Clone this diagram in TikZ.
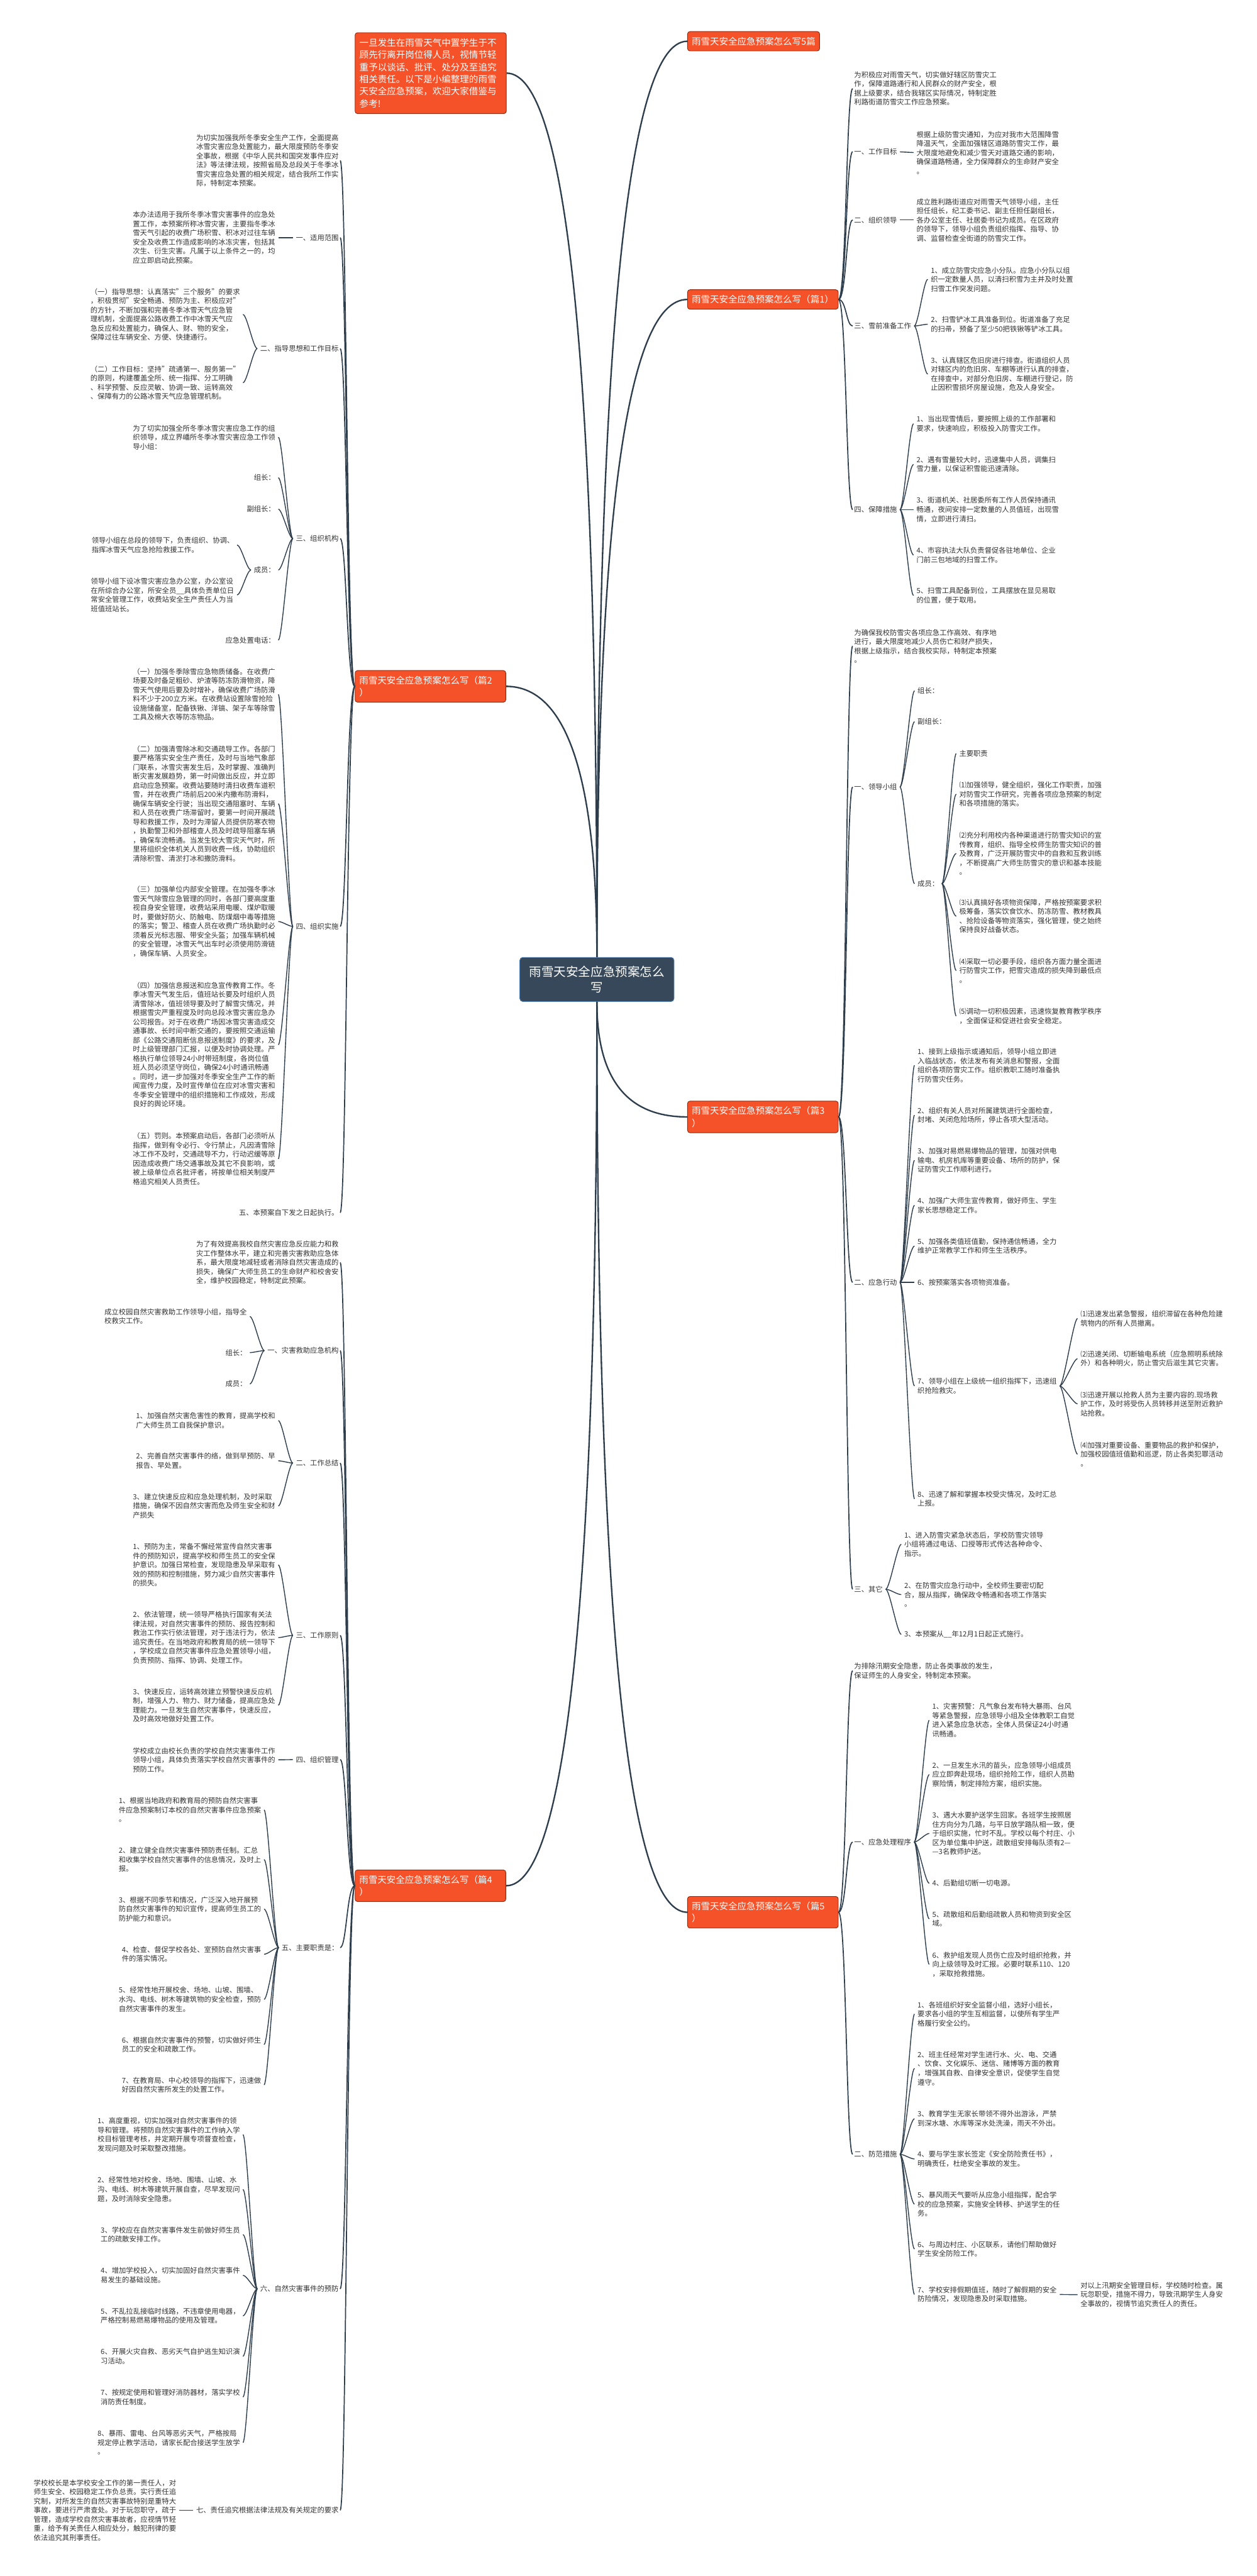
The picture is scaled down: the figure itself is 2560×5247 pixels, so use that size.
\documentclass[tikz,border=0pt]{standalone}
\usepackage{fontspec}
\setmainfont{Noto Sans CJK SC}
\usepackage{tikz}
\usepackage{xcolor}
\definecolor{linkcol}{HTML}{2E3D4C}
\definecolor{topicred}{HTML}{F5522A}
\definecolor{topicedge}{HTML}{8E2A12}
\definecolor{rootfill}{HTML}{36485A}
\definecolor{rootedge}{HTML}{4B7DB3}
\definecolor{txtcol}{HTML}{333333}
\newcommand{\txtfont}{\fontsize{14.5}{18.6}\selectfont}
\newcommand{\topicfont}{\fontsize{18.6}{24.7}\selectfont}
\newcommand{\rootfont}{\fontsize{25}{31.7}\selectfont}

\begin{document}
\begin{tikzpicture}[x=1pt,y=-1pt,
	txt/.style={inner sep=0pt,align=left,font=\txtfont,text=txtcol},
	rtxt/.style={txt,anchor=west},
	ltxt/.style={txt,anchor=east},
	topic/.style={rectangle,rounded corners=5pt,fill=topicred,draw=topicedge,line width=1.2pt,text=white,font=\topicfont,align=left,inner xsep=8.5pt,inner ysep=11pt},
	root/.style={rectangle,rounded corners=6pt,fill=rootfill,draw=rootedge,line width=1.2pt,text=white,font=\rootfont,align=center,minimum width=314pt,minimum height=90pt},
	link1/.style={draw=linkcol,line width=3pt},
	link2/.style={draw=linkcol,line width=2.2pt,shorten >=3pt},
	link3/.style={draw=linkcol,line width=1.8pt,shorten <=6pt,shorten >=6pt}]
		\fill[white] (0,0) rectangle (2560,5247);
		\useasboundingbox (0,0) rectangle (2560,5247);

		\node[root] (c) at (1216,1995) {雨雪天安全应急预案怎么\\写};

		\node[topic,text width=290pt,inner xsep=9pt,inner ysep=12pt,anchor=east] (ti) at (1032,149) {一旦发生在雨雪天气中置学生于不\\顾先行离开岗位得人员，视情节轻\\重予以谈话、批评、处分及至追究\\相关责任。以下是小编整理的雨雪\\天安全应急预案，欢迎大家借鉴与\\参考!};
		\node[topic,text width=290pt,anchor=east] (t2) at (1031,1398) {雨雪天安全应急预案怎么写（篇2\\）};
		\node[topic,text width=290pt,anchor=east] (t4) at (1031,3841) {雨雪天安全应急预案怎么写（篇4\\）};
		\node[topic,anchor=west] (t0) at (1400,84) {雨雪天安全应急预案怎么写5篇};
		\node[topic,text width=290pt,anchor=west] (t1) at (1400,610) {雨雪天安全应急预案怎么写（篇1）};
		\node[topic,text width=290pt,anchor=west] (t3) at (1400,2275) {雨雪天安全应急预案怎么写（篇3\\）};
		\node[topic,text width=290pt,anchor=west] (t5) at (1400,3895) {雨雪天安全应急预案怎么写（篇5\\）};

		\draw[link1] (c.north) .. controls +(0,-1244) and +(-123,0) .. (t0.west);
		\draw[link1] (c.north) .. controls +(0,-893) and +(-123,0) .. (t1.west);
		\draw[link1] (c.north) .. controls +(0,-1201) and +(123,0) .. (ti.east);
		\draw[link1] (c.north) .. controls +(0,-368) and +(123,0) .. (t2.east);
		\draw[link1] (c.south) .. controls +(0,157) and +(-123,0) .. (t3.west);
		\draw[link1] (c.south) .. controls +(0,1237) and +(-123,0) .. (t5.west);
		\draw[link1] (c.south) .. controls +(0,1201) and +(123,0) .. (t4.east);

		\node[rtxt] (a0) at (1740,180.5) {为积极应对雨雪天气，切实做好辖区防雪灾工\\作，保障道路通行和人民群众的财产安全，根\\据上级要求，结合我辖区实际情况，特制定胜\\利路街道防雪灾工作应急预案。};
		\node[rtxt] (a1) at (1740,309) {一、工作目标};
		\node[rtxt] (a1x) at (1867,311) {根据上级防雪灾通知，为应对我市大范围降雪\\降温天气，全面加强辖区道路防雪灾工作，最\\大限度地避免和减少雪天对道路交通的影响，\\确保道路畅通，全力保障群众的生命财产安全\\。};
		\node[rtxt] (a2) at (1740,448) {二、组织领导};
		\node[rtxt] (a2x) at (1867,448) {成立胜利路街道应对雨雪天气领导小组，主任\\担任组长，纪工委书记、副主任担任副组长，\\各办公室主任、社居委书记为成员。在区政府\\的领导下，领导小组负责组织指挥、指导、协\\调、监督检查全街道的防雪灾工作。};
		\node[rtxt] (a3) at (1740,664) {三、雪前准备工作};
		\node[rtxt] (a31) at (1896,569) {1、成立防雪灾应急小分队。应急小分队以组\\织一定数量人员，以清扫积雪为主并及时处置\\扫雪工作突发问题。};
		\node[rtxt] (a32) at (1896,660.5) {2、扫雪铲冰工具准备到位。街道准备了充足\\的扫帚，预备了至少50把铁锹等铲冰工具。};
		\node[rtxt] (a33) at (1896,762) {3、认真辖区危旧房进行排查。街道组织人员\\对辖区内的危旧房、车棚等进行认真的排查，\\在排查中，对部分危旧房、车棚进行登记，防\\止因积雪损坏房屋设施，危及人身安全。};
		\node[rtxt] (a4) at (1740,1038) {四、保障措施};
		\node[rtxt] (a41) at (1867,863) {1、当出现雪情后，要按照上级的工作部署和\\要求，快速响应，积极投入防雪灾工作。};
		\node[rtxt] (a42) at (1867,946) {2、遇有雪量较大时，迅速集中人员，调集扫\\雪力量，以保证积雪能迅速清除。};
		\node[rtxt] (a43) at (1867,1038) {3、街道机关、社居委所有工作人员保持通讯\\畅通，夜间安排一定数量的人员值班，出现雪\\情，立即进行清扫。};
		\node[rtxt] (a44) at (1867,1130.5) {4、市容执法大队负责督促各驻地单位、企业\\门前三包地域的扫雪工作。};
		\node[rtxt] (a45) at (1867,1213) {5、扫雪工具配备到位，工具摆放在显见易取\\的位置，便于取用。};

		\node[rtxt] (b0) at (1740,1316) {为确保我校防雪灾各项应急工作高效、有序地\\进行，最大限度地减少人员伤亡和财产损失，\\根据上级指示，结合我校实际，特制定本预案\\。};
		\node[rtxt] (b1) at (1740,1603) {一、领导小组};
		\node[rtxt] (b11) at (1869,1407) {组长：};
		\node[rtxt] (b12) at (1869,1470) {副组长：};
		\node[rtxt] (b13) at (1869,1800) {成员：};
		\node[rtxt] (b131) at (1954,1535) {主要职责};
		\node[rtxt] (b132) at (1954,1617.5) {⑴加强领导，健全组织，强化工作职责，加强\\对防雪灾工作研究，完善各项应急预案的制定\\和各项措施的落实。};
		\node[rtxt] (b133) at (1954,1738.5) {⑵充分利用校内各种渠道进行防雪灾知识的宣\\传教育，组织、指导全校师生防雪灾知识的普\\及教育，广泛开展防雪灾中的自救和互救训练\\，不断提高广大师生防雪灾的意识和基本技能\\。};
		\node[rtxt] (b134) at (1954,1866) {⑶认真搞好各项物资保障，严格按预案要求积\\极筹备，落实饮食饮水、防冻防雪、教材教具\\、抢险设备等物资落实，强化管理，使之始终\\保持良好战备状态。};
		\node[rtxt] (b135) at (1954,1977) {⑷采取一切必要手段，组织各方面力量全面进\\行防雪灾工作，把雪灾造成的损失降到最低点\\。};
		\node[rtxt] (b136) at (1954,2069.5) {⑸调动一切积极因素，迅速恢复教育教学秩序\\，全面保证和促进社会安全稳定。};
		\node[rtxt] (b2) at (1740,2612) {二、应急行动};
		\node[rtxt] (b21) at (1869,2170) {1、接到上级指示或通知后，领导小组立即进\\入临战状态，依法发布有关消息和警报，全面\\组织各项防雪灾工作。组织教职工随时准备执\\行防雪灾任务。};
		\node[rtxt] (b22) at (1869,2271.5) {2、组织有关人员对所属建筑进行全面检查，\\封堵、关闭危险场所，停止各项大型活动。};
		\node[rtxt] (b23) at (1869,2363.5) {3、加强对易燃易爆物品的管理，加强对供电\\输电、机房机库等重要设备、场所的防护，保\\证防雪灾工作顺利进行。};
		\node[rtxt] (b24) at (1869,2455) {4、加强广大师生宣传教育，做好师生、学生\\家长思想稳定工作。};
		\node[rtxt] (b25) at (1869,2538) {5、加强各类值班值勤，保持通信畅通，全力\\维护正常教学工作和师生生活秩序。};
		\node[rtxt] (b26) at (1869,2612) {6、按预案落实各项物资准备。};
		\node[rtxt] (b27) at (1869,2823) {7、领导小组在上级统一组织指挥下，迅速组\\织抢险救灾。};
		\node[rtxt] (b271) at (2201,2685.5) {⑴迅速发出紧急警报，组织滞留在各种危险建\\筑物内的所有人员撤离。};
		\node[rtxt] (b272) at (2201,2767.5) {⑵迅速关闭、切断输电系统（应急照明系统除\\外）和各种明火，防止雪灾后滋生其它灾害。};
		\node[rtxt] (b273) at (2201,2859.5) {⑶迅速开展以抢救人员为主要内容的.现场救\\护工作，及时将受伤人员转移并送至附近救护\\站抢救。};
		\node[rtxt] (b274) at (2201,2962) {⑷加强对重要设备、重要物品的救护和保护，\\加强校园值班值勤和巡逻，防止各类犯罪活动\\。};
		\node[rtxt] (b28) at (1869,3053) {8、迅速了解和掌握本校受灾情况，及时汇总\\上报。};
		\node[rtxt] (b3) at (1740,3237) {三、其它};
		\node[rtxt] (b31) at (1842,3145.5) {1、进入防雪灾紧急状态后，学校防雪灾领导\\小组将通过电话、口授等形式传达各种命令、\\指示。};
		\node[rtxt] (b32) at (1842,3248) {2、在防雪灾应急行动中，全校师生要密切配\\合，服从指挥，确保政令畅通和各项工作落实\\。};
		\node[rtxt] (b33) at (1842,3329) {3、本预案从\_\_年12月1日起正式施行。};

		\node[rtxt] (e0) at (1740,3403) {为排除汛期安全隐患，防止各类事故的发生，\\保证师生的人身安全，特制定本预案。};
		\node[rtxt] (e1) at (1740,3752) {一、应急处理程序};
		\node[rtxt] (e11) at (1899,3504) {1、灾害预警：凡气象台发布特大暴雨、台风\\等紧急警报，应急领导小组及全体教职工自觉\\进入紧急应急状态，全体人员保证24小时通\\讯畅通。};
		\node[rtxt] (e12) at (1899,3614.5) {2、一旦发生水汛的苗头，应急领导小组成员\\应立即奔赴现场，组织抢险工作，组织人员勘\\察险情，制定排险方案，组织实施。};
		\node[rtxt] (e13) at (1899,3734.5) {3、遇大水要护送学生回家。各班学生按照居\\住方向分为几路，与平日放学路队相一致，便\\于组织实施，忙时不乱。学校以每个村庄、小\\区为单位集中护送，疏散组安排每队须有2—\\—3名教师护送。};
		\node[rtxt] (e14) at (1899,3836) {4、后勤组切断一切电源。};
		\node[rtxt] (e15) at (1899,3908.5) {5、疏散组和后勤组疏散人员和物资到安全区\\域。};
		\node[rtxt] (e16) at (1899,4001) {6、救护组发现人员伤亡应及时组织抢救，并\\向上级领导及时汇报。必要时联系110、120\\，采取抢救措施。};
		\node[rtxt] (e2) at (1740,4388) {二、防范措施};
		\node[rtxt] (e21) at (1869,4102.5) {1、各班组织好安全监督小组，选好小组长，\\要求各小组的学生互相监督，以使所有学生严\\格履行安全公约。};
		\node[rtxt] (e22) at (1869,4213) {2、班主任经常对学生进行水、火、电、交通\\、饮食、文化娱乐、迷信、赌博等方面的教育\\，增强其自救、自律安全意识，促使学生自觉\\遵守。};
		\node[rtxt] (e23) at (1869,4315.5) {3、教育学生无家长带领不得外出游泳，严禁\\到深水塘、水库等深水处洗澡，雨天不外出。};
		\node[rtxt] (e24) at (1869,4397.5) {4、要与学生家长签定《安全防险责任书》，\\明确责任，杜绝安全事故的发生。};
		\node[rtxt] (e25) at (1869,4489.5) {5、暴风雨天气要听从应急小组指挥，配合学\\校的应急预案，实施安全转移、护送学生的任\\务。};
		\node[rtxt] (e26) at (1869,4581) {6、与周边村庄、小区联系，请他们帮助做好\\学生安全防险工作。};
		\node[rtxt] (e27) at (1869,4673.5) {7、学校安排假期值班，随时了解假期的安全\\防险情况，发现隐患及时采取措施。};
		\node[rtxt] (e271) at (2201,4674) {对以上汛期安全管理目标，学校随时检查。属\\玩忽职受，措施不得力，导致汛期学生人身安\\全事故的，视情节追究责任人的责任。};

		\node[ltxt] (f0) at (690,327) {为切实加强我所冬季安全生产工作，全面提高\\冰雪灾害应急处置能力，最大限度预防冬季安\\全事故，根据《中华人民共和国突发事件应对\\法》等法律法规，按照省局及总段关于冬季冰\\雪灾害应急处置的相关规定，结合我所工作实\\际，特制定本预案。};
		\node[ltxt] (f1) at (690,484) {一、适用范围};
		\node[ltxt] (f1x) at (561,484) {本办法适用于我所冬季冰雪灾害事件的应急处\\置工作，本预案所称冰雪灾害，主要指冬季冰\\雪天气引起的收费广场积雪、积冰对过往车辆\\安全及收费工作造成影响的冰冻灾害，包括其\\次生、衍生灾害。凡属于以上条件之一的，均\\应立即启动此预案。};
		\node[ltxt] (f2) at (690,710) {二、指导思想和工作目标};
		\node[ltxt] (f21) at (489,640.5) {（一）指导思想：认真落实"三个服务"的要求\\，积极贯彻"安全畅通、预防为主、积极应对"\\的方针，不断加强和完善冬季冰雪天气应急管\\理机制，全面提高公路收费工作中冰雪天气应\\急反应和处置能力，确保人、财、物的安全，\\保障过往车辆安全、方便、快捷通行。};
		\node[ltxt] (f22) at (489,779.5) {（二）工作目标：坚持"疏通第一、服务第一"\\的原则，构建覆盖全所、统一指挥、分工明确\\、科学预警、反应灵敏、协调一致、运转高效\\、保障有力的公路冰雪天气应急管理机制。};
		\node[ltxt] (f3) at (690,1097) {三、组织机构};
		\node[ltxt] (f31) at (561,890.5) {为了切实加强全所冬季冰雪灾害应急工作的组\\织领导，成立界嶓所冬季冰雪灾害应急工作领\\导小组：};
		\node[ltxt] (f32) at (561,973) {组长：};
		\node[ltxt] (f33) at (561,1037) {副组长：};
		\node[ltxt] (f34) at (561,1161) {成员：};
		\node[ltxt] (f341) at (477,1110) {领导小组在总段的领导下，负责组织、协调、\\指挥冰雪天气应急抢险救援工作。};
		\node[ltxt] (f342) at (477,1212) {领导小组下设冰雪灾害应急办公室，办公室设\\在所综合办公室，所安全员\_\_具体负责单位日\\常安全管理工作，收费站安全生产责任人为当\\班值班站长。};
		\node[ltxt] (f35) at (561,1304) {应急处置电话：};
		\node[ltxt] (f4) at (690,1887) {四、组织实施};
		\node[ltxt] (f41) at (561,1414.5) {（一）加强冬季除雪应急物质储备。在收费广\\场要及时备足粗砂、炉渣等防冻防滑物资，降\\雪天气使用后要及时增补，确保收费广场防滑\\料不少于200立方米。在收费站设置除雪抢险\\设施储备室，配备铁锹、洋镐、架子车等除雪\\工具及棉大衣等防冻物品。};
		\node[ltxt] (f42) at (561,1637) {（二）加强清雪除冰和交通疏导工作。各部门\\要严格落实安全生产责任，及时与当地气象部\\门联系，冰雪灾害发生后，及时掌握、准确判\\断灾害发展趋势，第一时间做出反应，并立即\\启动应急预案。收费站要随时清扫收费车道积\\雪，并在收费广场前后200米内撒布防滑料，\\确保车辆安全行驶；当出现交通阻塞时、车辆\\和人员在收费广场滞留时，要第一时间开展疏\\导和救援工作，及时为滞留人员提供防寒衣物\\，执勤警卫和外部稽查人员及时疏导阻塞车辆\\，确保车流畅通。当发生较大雪灾天气时，所\\里将组织全体机关人员到收费一线，协助组织\\清除积雪、清淤打冰和撒防滑料。};
		\node[ltxt] (f43) at (561,1877) {（三）加强单位内部安全管理。在加强冬季冰\\雪天气除雪应急管理的同时，各部门要高度重\\视自身安全管理，收费站采用电暖、煤炉取暖\\时，要做好防火、防触电、防煤烟中毒等措施\\的落实；警卫、稽查人员在收费广场执勤时必\\须着反光标志服、带安全头盔；加强车辆机械\\的安全管理，冰雪天气出车时必须使用防滑链\\，确保车辆、人员安全。};
		\node[ltxt] (f44) at (561,2128) {（四）加强信息报送和应急宣传教育工作。冬\\季冰雪天气发生后，值班站长要及时组织人员\\清雪除冰，值班领导要及时了解雪灾情况，并\\根据雪灾严重程度及时向总段冰雪灾害应急办\\公司报告。对于在收费广场因冰雪灾害造成交\\通事故、长时间中断交通的，要按照交通运输\\部《公路交通阻断信息报送制度》的要求，及\\时上级管理部门汇报，以便及时协调处理。严\\格执行单位领导24小时带班制度，各岗位值\\班人员必须坚守岗位，确保24小时通讯畅通\\。同时，进一步加强对冬季安全生产工作的新\\闻宣传力度，及时宣传单位在应对冰雪灾害和\\冬季安全管理中的组织措施和工作成效，形成\\良好的舆论环境。};
		\node[ltxt] (f45) at (561,2360.5) {（五）罚则。本预案启动后，各部门必须听从\\指挥，做到有令必行、令行禁止，凡因清雪除\\冰工作不及时，交通疏导不力，行动迟缓等原\\因造成收费广场交通事故及其它不良影响，或\\被上级单位点名批评者，将按单位相关制度严\\格追究相关人员责任。};
		\node[ltxt] (f5) at (690,2470) {五、本预案自下发之日起执行。};

		\node[ltxt] (g0) at (690,2571.5) {为了有效提高我校自然灾害应急反应能力和救\\灾工作整体水平，建立和完善灾害救助应急体\\系，最大限度地减轻或者消除自然灾害造成的\\损失，确保广大师生员工的生命财产和校舍安\\全，维护校园稳定，特制定此预案。};
		\node[ltxt] (g1) at (690,2751) {一、灾害救助应急机构};
		\node[ltxt] (g11) at (503,2681.5) {成立校园自然灾害救助工作领导小组，指导全\\校救灾工作。};
		\node[ltxt] (g12) at (503,2755) {组长：};
		\node[ltxt] (g13) at (503,2819) {成员：};
		\node[ltxt] (g2) at (690,2980) {二、工作总结};
		\node[ltxt] (g21) at (561,2893.5) {1、加强自然灾害危害性的教育，提高学校和\\广大师生员工自我保护意识。};
		\node[ltxt] (g22) at (561,2975.5) {2、完善自然灾害事件的络，做到早预防、早\\报告、早处置。};
		\node[ltxt] (g23) at (561,3067.5) {3、建立快速反应和应急处理机制，及时采取\\措施，确保不因自然灾害而危及师生安全和财\\产损失};
		\node[ltxt] (g3) at (690,3331) {三、工作原则};
		\node[ltxt] (g31) at (561,3187.5) {1、预防为主，常备不懈经常宣传自然灾害事\\件的预防知识，提高学校和师生员工的安全保\\护意识。加强日常检查，发现隐患及早采取有\\效的预防和控制措施，努力减少自然灾害事件\\的损失。};
		\node[ltxt] (g32) at (561,3335.5) {2、依法管理，统一领导严格执行国家有关法\\律法规，对自然灾害事件的预防、报告控制和\\救治工作实行依法管理，对于违法行为，依法\\追究责任。在当地政府和教育局的统一领导下\\，学校成立自然灾害事件应急处置领导小组，\\负责预防、指挥、协调、处理工作。};
		\node[ltxt] (g33) at (561,3473.5) {3、快速反应，运转高效建立预警快速反应机\\制，增强人力、物力、财力储备，提高应急处\\理能力。一旦发生自然灾害事件，快速反应，\\及时高效地做好处置工作。};
		\node[ltxt] (g4) at (690,3584) {四、组织管理};
		\node[ltxt] (g41) at (561,3584.5) {学校成立由校长负责的学校自然灾害事件工作\\领导小组，具体负责落实学校自然灾害事件的\\预防工作。};
		\node[ltxt] (g5) at (690,3967) {五、主要职责是：};
		\node[ltxt] (g51) at (532,3686.5) {1、根据当地政府和教育局的预防自然灾害事\\件应急预案制订本校的自然灾害事件应急预案\\。};
		\node[ltxt] (g52) at (532,3787.5) {2、建立健全自然灾害事件预防责任制。汇总\\和收集学校自然灾害事件的信息情况，及时上\\报。};
		\node[ltxt] (g53) at (532,3888.5) {3、根据不同季节和情况，广泛深入地开展预\\防自然灾害事件的知识宣传，提高师生员工的\\防护能力和意识。};
		\node[ltxt] (g54) at (532,3980.5) {4、检查、督促学校各处、室预防自然灾害事\\件的落实情况。};
		\node[ltxt] (g55) at (532,4072.5) {5、经常性地开展校舍、场地、山坡、围墙、\\水沟、电线、树木等建筑物的安全检查，预防\\自然灾害事件的发生。};
		\node[ltxt] (g56) at (532,4164.5) {6、根据自然灾害事件的预警，切实做好师生\\员工的安全和疏散工作。};
		\node[ltxt] (g57) at (532,4246.5) {7、在教育局、中心校领导的指挥下，迅速做\\好因自然灾害所发生的处置工作。};
		\node[ltxt] (g6) at (690,4662) {六、自然灾害事件的预防};
		\node[ltxt] (g61) at (489,4348) {1、高度重视，切实加强对自然灾害事件的领\\导和管理。将预防自然灾害事件的工作纳入学\\校目标管理考核，并定期开展专项督查检查，\\发现问题及时采取整改措施。};
		\node[ltxt] (g62) at (489,4459.5) {2、经常性地对校舍、场地、围墙、山坡、水\\沟、电线、树木等建筑开展自查，尽早发现问\\题，及时消除安全隐患。};
		\node[ltxt] (g63) at (489,4551.5) {3、学校应在自然灾害事件发生前做好师生员\\工的疏散安排工作。};
		\node[ltxt] (g64) at (489,4634.5) {4、增加学校投入，切实加固好自然灾害事件\\易发生的基础设施。};
		\node[ltxt] (g65) at (489,4717) {5、不乱拉乱接临时线路，不违章使用电器，\\严格控制易燃易爆物品的使用及管理。};
		\node[ltxt] (g66) at (489,4799.5) {6、开展火灾自救、恶劣天气自护逃生知识演\\习活动。};
		\node[ltxt] (g67) at (489,4882.5) {7、按规定使用和管理好消防器材，落实学校\\消防责任制度。};
		\node[ltxt] (g68) at (489,4975) {8、暴雨、雷电、台风等恶劣天气，严格按局\\规定停止教学活动，请家长配合接送学生放学\\。};
		\node[ltxt] (g7) at (690,5113) {七、责任追究根据法律法规及有关规定的要求};
		\node[ltxt] (g71) at (359,5113) {学校校长是本学校安全工作的第一责任人，对\\师生安全、校园稳定工作负总责。实行责任追\\究制，对所发生的自然灾害事故特别是重特大\\事故，要进行严肃查处。对于玩忽职守，疏于\\管理，造成学校自然灾害事故者，应视情节轻\\重，给予有关责任人相应处分，触犯刑律的要\\依法追究其刑事责任。};

		\foreach \n in {a0,a1,a2,a3,a4}
		\draw[link2] (t1.east) .. controls +(16,0) and +(-16,0) .. (\n.west);
		\foreach \n in {b0,b1,b2,b3}
		\draw[link2] (t3.east) .. controls +(16,0) and +(-16,0) .. (\n.west);
		\foreach \n in {e0,e1,e2}
		\draw[link2] (t5.east) .. controls +(16,0) and +(-16,0) .. (\n.west);
		\foreach \n in {f0,f1,f2,f3,f4,f5}
		\draw[link2] (t2.west) .. controls +(-16,0) and +(16,0) .. (\n.east);
		\foreach \n in {g0,g1,g2,g3,g4,g5,g6,g7}
		\draw[link2] (t4.west) .. controls +(-16,0) and +(16,0) .. (\n.east);

		\draw[link3] (a1.east) -- (a1x.west);
		\draw[link3] (a2.east) -- (a2x.west);
		\draw[link3] (b2.east) -- (b26.west);
		\draw[link3] (e27.east) -- (e271.west);
		\draw[link3] (f1.west) -- (f1x.east);
		\draw[link3] (g4.west) -- (g41.east);
		\draw[link3] (g7.west) -- (g71.east);
		\foreach \n in {a31,a32,a33}
		\draw[link3] (a3.east) .. controls +(14,0) and +(-14,0) .. (\n.west);
		\foreach \n in {a41,a42,a43,a44,a45}
		\draw[link3] (a4.east) .. controls +(14,0) and +(-14,0) .. (\n.west);
		\foreach \n in {b11,b12,b13}
		\draw[link3] (b1.east) .. controls +(14,0) and +(-14,0) .. (\n.west);
		\foreach \n in {b131,b132,b133,b134,b135,b136}
		\draw[link3] (b13.east) .. controls +(14,0) and +(-14,0) .. (\n.west);
		\foreach \n in {b21,b22,b23,b24,b25,b27,b28}
		\draw[link3] (b2.east) .. controls +(14,0) and +(-14,0) .. (\n.west);
		\foreach \n in {b271,b272,b273,b274}
		\draw[link3] (b27.east) .. controls +(14,0) and +(-14,0) .. (\n.west);
		\foreach \n in {b31,b32,b33}
		\draw[link3] (b3.east) .. controls +(14,0) and +(-14,0) .. (\n.west);
		\foreach \n in {e11,e12,e13,e14,e15,e16}
		\draw[link3] (e1.east) .. controls +(14,0) and +(-14,0) .. (\n.west);
		\foreach \n in {e21,e22,e23,e24,e25,e26,e27}
		\draw[link3] (e2.east) .. controls +(14,0) and +(-14,0) .. (\n.west);
		\foreach \n in {f21,f22}
		\draw[link3] (f2.west) .. controls +(-14,0) and +(14,0) .. (\n.east);
		\foreach \n in {f31,f32,f33,f34,f35}
		\draw[link3] (f3.west) .. controls +(-14,0) and +(14,0) .. (\n.east);
		\foreach \n in {f341,f342}
		\draw[link3] (f34.west) .. controls +(-14,0) and +(14,0) .. (\n.east);
		\foreach \n in {f41,f42,f43,f44,f45}
		\draw[link3] (f4.west) .. controls +(-14,0) and +(14,0) .. (\n.east);
		\foreach \n in {g11,g12,g13}
		\draw[link3] (g1.west) .. controls +(-14,0) and +(14,0) .. (\n.east);
		\foreach \n in {g21,g22,g23}
		\draw[link3] (g2.west) .. controls +(-14,0) and +(14,0) .. (\n.east);
		\foreach \n in {g31,g32,g33}
		\draw[link3] (g3.west) .. controls +(-14,0) and +(14,0) .. (\n.east);
		\foreach \n in {g51,g52,g53,g54,g55,g56,g57}
		\draw[link3] (g5.west) .. controls +(-14,0) and +(14,0) .. (\n.east);
		\foreach \n in {g61,g62,g63,g64,g65,g66,g67,g68}
		\draw[link3] (g6.west) .. controls +(-14,0) and +(14,0) .. (\n.east);
	\end{tikzpicture}
\end{document}
